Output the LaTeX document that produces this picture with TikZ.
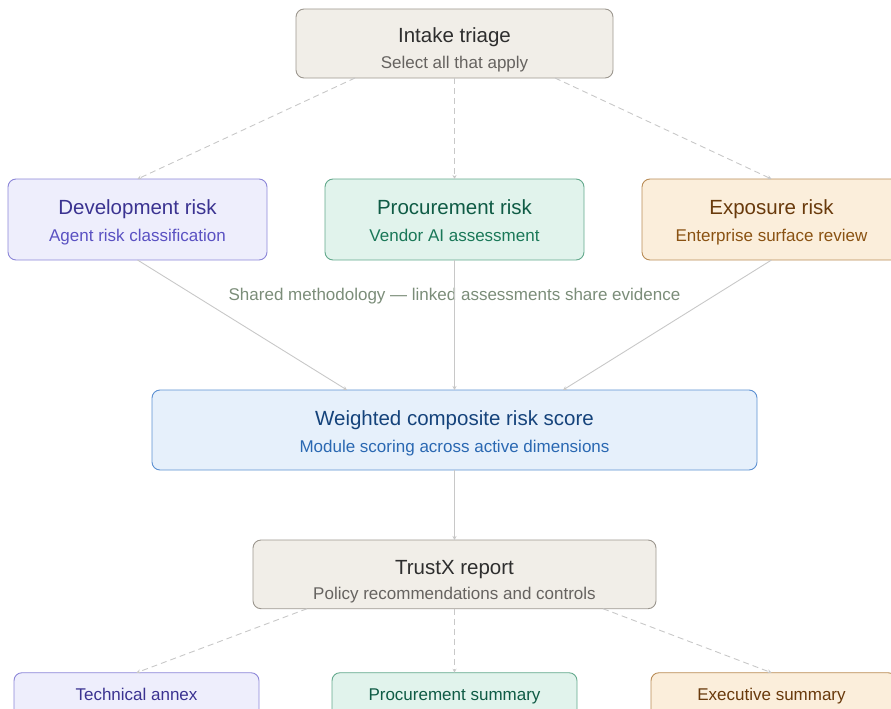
\documentclass[tikz,border=0pt]{standalone}
\usepackage{fontspec}
\setmainfont{Liberation Sans}
\usetikzlibrary{arrows.meta}
\definecolor{gfill}{HTML}{F1EEE8}
\definecolor{gline}{HTML}{9C978F}
\definecolor{gtitle}{HTML}{2E2E2E}
\definecolor{gsub}{HTML}{666360}
\definecolor{pfill}{HTML}{EEEEFC}
\definecolor{pline}{HTML}{8C86D8}
\definecolor{ptitle}{HTML}{3B3391}
\definecolor{psub}{HTML}{5A51C2}
\definecolor{tfill}{HTML}{E1F3EC}
\definecolor{tline}{HTML}{63A98C}
\definecolor{ttitle}{HTML}{0F5B45}
\definecolor{tsub}{HTML}{1A7858}
\definecolor{ofill}{HTML}{FBEEDB}
\definecolor{oline}{HTML}{B98C56}
\definecolor{otitle}{HTML}{693A0C}
\definecolor{osub}{HTML}{8A5212}
\definecolor{bfill}{HTML}{E6F0FB}
\definecolor{bline}{HTML}{5C90D2}
\definecolor{btitle}{HTML}{15437B}
\definecolor{bsub}{HTML}{2A68B2}
\definecolor{edge}{HTML}{C8C8C8}
\definecolor{note}{HTML}{7B8D79}
\begin{document}
\begin{tikzpicture}[x=1pt,y=-1pt,
  box/.style={rectangle, rounded corners=8pt, line width=0.9pt, inner sep=0pt, outer sep=0pt},
  greybox/.style={box, draw=gline, fill=gfill},
  purplebox/.style={box, draw=pline, fill=pfill},
  tealbox/.style={box, draw=tline, fill=tfill},
  orangebox/.style={box, draw=oline, fill=ofill},
  bluebox/.style={box, draw=bline, fill=bfill},
  ttl/.style={anchor=base, inner sep=0pt, font=\fontsize{20.5}{24}\selectfont},
  sub/.style={anchor=base, inner sep=0pt, font=\fontsize{17}{20}\selectfont},
  conn/.style={draw=edge, line width=0.9pt, -{Stealth[length=4pt,width=4pt]}},
  dconn/.style={conn, dash pattern=on 6pt off 4pt}]
\useasboundingbox (0,0) rectangle (891,709);
\clip (0,0) rectangle (891,709);

% top
\node[greybox, minimum width=317pt, minimum height=69pt] (intake) at (454.5,43.5) {};
\node[ttl, text=gtitle] (t1) at (454.5,43) {Intake triage};
\node[sub, text=gsub] (s1) at (454.5,69) {Select all that apply};

% second row
\node[purplebox, minimum width=259pt, minimum height=81pt] (dev) at (137.5,219.5) {};
\node[ttl, text=ptitle] (t2) at (137.5,214.3) {Development risk};
\node[sub, text=psub] (s2) at (137.5,241.7) {Agent risk classification};

\node[tealbox, minimum width=259pt, minimum height=81pt] (proc) at (454.5,219.5) {};
\node[ttl, text=ttitle] (t3) at (454.5,214.3) {Procurement risk};
\node[sub, text=tsub] (s3) at (454.5,241.7) {Vendor AI assessment};

\node[orangebox, minimum width=259pt, minimum height=81pt] (expo) at (771.5,219.5) {};
\node[ttl, text=otitle] (t4) at (771.5,214.3) {Exposure risk};
\node[sub, text=osub] (s4) at (771.5,241.7) {Enterprise surface review};

\node[sub, text=note] (shared) at (454.5,300.5) {Shared methodology — linked assessments share evidence};

% composite
\node[bluebox, minimum width=605pt, minimum height=80pt] (score) at (454.5,430) {};
\node[ttl, text=btitle] (t5) at (454.5,425) {Weighted composite risk score};
\node[sub, text=bsub] (s5) at (454.5,452.3) {Module scoring across active dimensions};

% report
\node[greybox, minimum width=403pt, minimum height=68.7pt] (report) at (454.5,574.35) {};
\node[ttl, text=gtitle] (t6) at (454.5,574) {TrustX report};
\node[sub, text=gsub] (s6) at (454.5,599.3) {Policy recommendations and controls};

% bottom row
\node[purplebox, minimum width=245pt, minimum height=47.3pt] (annex) at (136.5,696.35) {};
\node[sub, text=ptitle] (t7) at (136.5,700) {Technical annex};
\node[tealbox, minimum width=245pt, minimum height=47.3pt] (psum) at (454.5,696.35) {};
\node[sub, text=ttitle] (t8) at (454.5,700) {Procurement summary};
\node[orangebox, minimum width=245pt, minimum height=47.3pt] (esum) at (773.5,696.35) {};
\node[sub, text=otitle] (t9) at (771.5,700) {Executive summary};

% connectors
\draw[dconn] ([xshift=-99.5pt]intake.south) -- (dev.north);
\draw[dconn] (intake.south) -- (proc.north);
\draw[dconn] ([xshift=100.5pt]intake.south) -- (expo.north);
\draw[conn] (dev.south) -- ([xshift=-107.5pt]score.north);
\draw[conn] (proc.south) -- (score.north);
\draw[conn] (expo.south) -- ([xshift=108.5pt]score.north);
\draw[conn] (score.south) -- (report.north);
\draw[dconn] ([xshift=-147.5pt]report.south) -- (annex.north);
\draw[dconn] (report.south) -- (psum.north);
\draw[dconn] ([xshift=148.5pt]report.south) -- ([xshift=-2pt]esum.north);
\end{tikzpicture}
\end{document}
